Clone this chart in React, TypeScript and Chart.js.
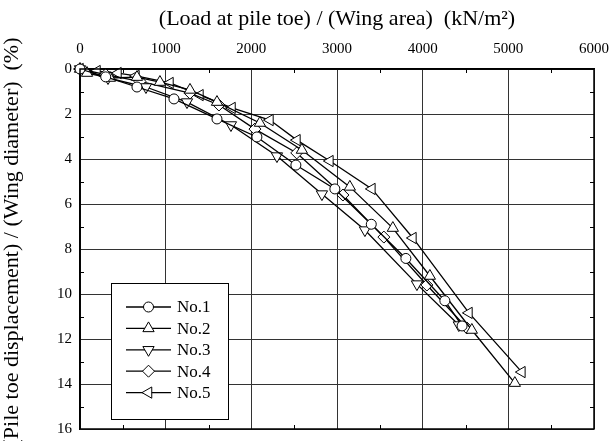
import React, { useEffect, useRef } from 'react';
import { Chart, registerables } from 'chart.js';
import { drawPoint } from 'chart.js/helpers';

Chart.register(...registerables);

// ---- data ----
const xTickValues = [0, 1000, 2000, 3000, 4000, 5000, 6000];
const yTickValues = [0, 2, 4, 6, 8, 10, 12, 14, 16];
const xTitle = '(Load at pile toe) / (Wing area)  (kN/m²)';
const yTitle = '(Pile toe displacement) / (Wing diameter)  (%)';

const seriesNames = ['No.1', 'No.2', 'No.3', 'No.4', 'No.5'];

const no1Load = [0, 300, 665, 1097, 1599, 2065, 2520, 2975, 3400, 3804, 4259, 4460];
const no1Disp = [0, 0.35, 0.8, 1.33, 2.22, 3.02, 4.27, 5.33, 6.9, 8.42, 10.3, 11.42];

const no2Load = [0, 82, 350, 665, 933, 1284, 1599, 2100, 2590, 3150, 3652, 4084, 4574, 5076];
const no2Disp = [0, 0.18, 0.4, 0.36, 0.58, 0.93, 1.47, 2.4, 3.6, 5.24, 7.07, 9.2, 11.6, 13.96];

const no3Load = [0, 327, 770, 1249, 1762, 2299, 2824, 3326, 3933, 4422];
const no3Disp = [0, 0.4, 0.8, 1.47, 2.49, 3.87, 5.56, 7.16, 9.56, 11.38];

const no4Load = [0, 300, 700, 1284, 1622, 2042, 2530, 3069, 3547, 4049, 4516];
const no4Disp = [0, 0.25, 0.55, 1.07, 1.6, 2.67, 3.73, 5.6, 7.47, 9.6, 11.51];

const no5Load = [0, 198, 443, 653, 1050, 1400, 1774, 2217, 2532, 2917, 3407, 3886, 4540, 5158];
const no5Disp = [0, 0.09, 0.18, 0.31, 0.62, 1.16, 1.73, 2.27, 3.16, 4.09, 5.33, 7.51, 10.84, 13.47];

const loads = [no1Load, no2Load, no3Load, no4Load, no5Load];
const disps = [no1Disp, no2Disp, no3Disp, no4Disp, no5Disp];

// ---- style ----
const FONT = "'Liberation Serif', 'Times New Roman', serif";
const pointStyles = ['circle', 'triangle', 'triangle', 'rectRot', 'triangle'];
const pointRotations = [0, 0, 180, 0, 270];
const pointRadii = [5, 6.5, 6.5, 6, 6.5];

const frameAndLegend = {
  id: 'frameAndLegend',
  afterDraw(chart: any) {
    const { ctx, chartArea: ca } = chart;
    const xs = chart.scales.x;
    const ys = chart.scales.y;
    ctx.save();
    ctx.strokeStyle = '#000';
    ctx.lineWidth = 1.5;
    ctx.strokeRect(ca.left, ca.top, ca.right - ca.left, ca.bottom - ca.top);
    // minor ticks (inward) on all sides
    ctx.lineWidth = 1;
    const minorLen = 4;
    ctx.beginPath();
    const xt = xs.ticks.map((t: any) => t.value);
    for (let i = 0; i < xt.length - 1; i++) {
      const px = Math.round(xs.getPixelForValue((xt[i] + xt[i + 1]) / 2)) + 0.5;
      ctx.moveTo(px, ca.top);
      ctx.lineTo(px, ca.top + minorLen);
      ctx.moveTo(px, ca.bottom);
      ctx.lineTo(px, ca.bottom - minorLen);
    }
    const yt = ys.ticks.map((t: any) => t.value);
    for (let i = 0; i < yt.length - 1; i++) {
      const py = Math.round(ys.getPixelForValue((yt[i] + yt[i + 1]) / 2)) + 0.5;
      ctx.moveTo(ca.left, py);
      ctx.lineTo(ca.left + minorLen, py);
      ctx.moveTo(ca.right, py);
      ctx.lineTo(ca.right - minorLen, py);
    }
    ctx.stroke();

    // y-axis title (rotated)
    ctx.save();
    ctx.translate(12, (ca.top + ca.bottom) / 2 - 7);
    ctx.rotate(-Math.PI / 2);
    ctx.fillStyle = '#000';
    ctx.font = `22px ${FONT}`;
    ctx.textAlign = 'center';
    ctx.textBaseline = 'middle';
    ctx.fillText(yTitle, 0, 0);
    ctx.restore();

    // legend box
    const bx = ca.left + 31;
    const by = ca.top + 214;
    const bw = 117;
    const bh = 136;
    ctx.fillStyle = '#fff';
    ctx.fillRect(bx, by, bw, bh);
    ctx.strokeStyle = '#000';
    ctx.lineWidth = 1;
    ctx.strokeRect(bx + 0.5, by + 0.5, bw, bh);
    chart.data.datasets.forEach((ds: any, i: number) => {
      const cy = by + 24 + i * 21.4;
      ctx.strokeStyle = '#000';
      ctx.lineWidth = 1.3;
      ctx.beginPath();
      ctx.moveTo(bx + 15, cy);
      ctx.lineTo(bx + 60, cy);
      ctx.stroke();
      ctx.fillStyle = '#fff';
      ctx.lineWidth = 1;
      drawPoint(ctx, {
        pointStyle: ds.pointStyle,
        rotation: ds.pointRotation,
        radius: ds.pointRadius,
        borderWidth: 1,
      } as any, bx + 37.5, cy);
      ctx.fillStyle = '#000';
      ctx.font = `17px ${FONT}`;
      ctx.textBaseline = 'middle';
      ctx.textAlign = 'left';
      ctx.fillText(ds.label, bx + 66, cy + 1);
    });
    ctx.restore();
  },
};

export default function App() {
  const ref = useRef<HTMLCanvasElement | null>(null);
  useEffect(() => {
    document.body.style.margin = '0';
    if (!ref.current) return;
    const datasets = seriesNames.map((name, i) => ({
      label: name,
      data: loads[i].map((v, j) => ({ x: v, y: disps[i][j] })),
      borderColor: '#000',
      borderWidth: 1.3,
      backgroundColor: '#fff',
      pointBackgroundColor: '#fff',
      pointBorderColor: '#000',
      pointBorderWidth: 1,
      pointStyle: pointStyles[i],
      pointRotation: pointRotations[i],
      pointRadius: pointRadii[i],
      showLine: true,
      fill: false,
      tension: 0,
      clip: false as any,
    }));
    const chart = new Chart(ref.current, {
      type: 'scatter',
      data: { datasets },
      options: {
        animation: false,
        responsive: false,
        devicePixelRatio: 1,
        layout: { padding: { left: 0, top: 0, right: 19, bottom: 12 } },
        plugins: { legend: { display: false }, tooltip: { enabled: false } },
        scales: {
          x: {
            type: 'linear',
            position: 'top',
            min: xTickValues[0],
            max: xTickValues[xTickValues.length - 1],
            afterBuildTicks: (scale: any) => {
              scale.ticks = xTickValues.map((v) => ({ value: v }));
            },
            afterFit: (scale: any) => {
              scale.height = 69;
              scale.paddingLeft = 0;
              scale.paddingRight = 0;
            },
            ticks: {
              autoSkip: false,
              maxRotation: 0,
              padding: 11,
              color: '#000',
              font: { family: FONT, size: 15 },
              callback: (v: any) => String(v),
            },
            grid: { color: '#333', lineWidth: 1, drawTicks: false },
            border: { display: true, color: '#000', width: 1.5 },
            title: {
              display: true,
              text: xTitle,
              color: '#000',
              font: { family: FONT, size: 22 },
              padding: { top: 6, bottom: 0 },
            },
          },
          y: {
            type: 'linear',
            reverse: true,
            min: yTickValues[0],
            max: yTickValues[yTickValues.length - 1],
            afterBuildTicks: (scale: any) => {
              scale.ticks = yTickValues.map((v) => ({ value: v }));
            },
            afterFit: (scale: any) => {
              scale.width = 80;
              scale.paddingTop = 0;
              scale.paddingBottom = 0;
            },
            ticks: {
              autoSkip: false,
              padding: 8,
              color: '#000',
              font: { family: FONT, size: 15 },
              callback: (v: any) => String(v),
            },
            grid: { color: '#333', lineWidth: 1, drawTicks: false },
            border: { display: true, color: '#000', width: 1.5 },
            title: { display: false },
          },
        },
      },
      plugins: [frameAndLegend],
    });
    return () => chart.destroy();
  }, []);
  return (
    <div style={{ width: 613, height: 441 }}>
      <canvas ref={ref} width={613} height={441} />
    </div>
  );
}
